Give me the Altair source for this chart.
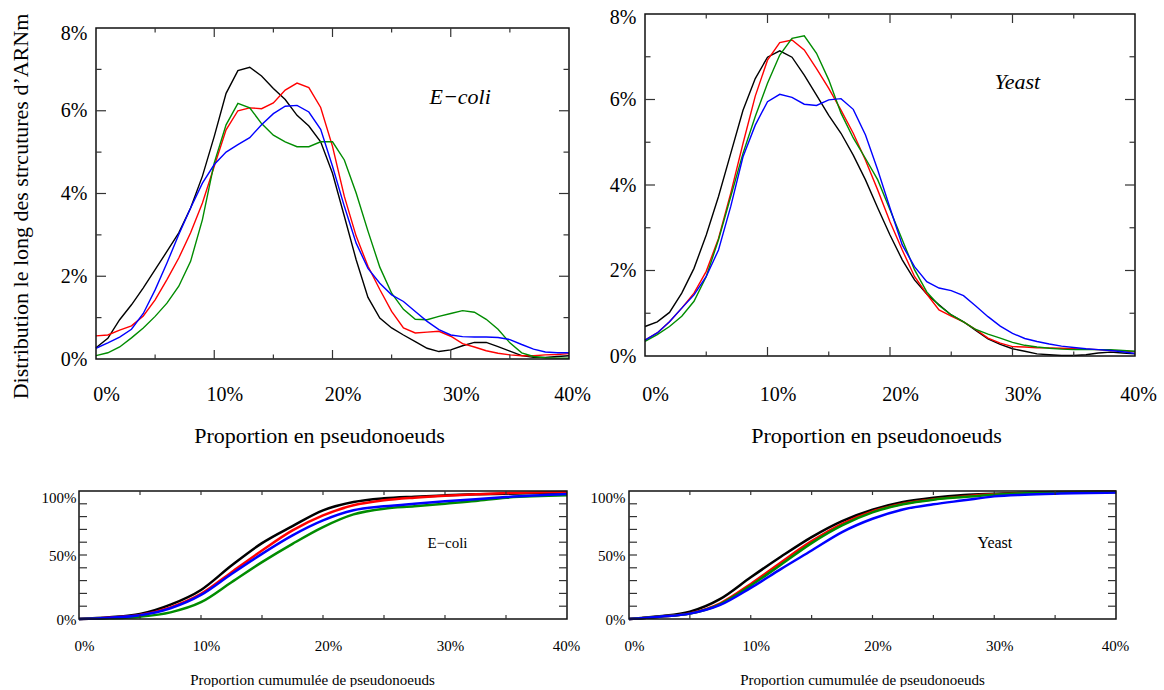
import altair as alt
import pandas as pd

FONT = "Liberation Serif"
SERIES = ["noir", "rouge", "vert", "bleu"]
COLORS = ["#000000", "#ff0000", "#008c00", "#0000ff"]
TICK_COLOR = "#333333"
FRAME_COLOR = "#111111"

# ---------------- density curves (percent) ----------------
x_density = list(range(0, 41))

ecoli_black = [0.27, 0.5, 0.95, 1.31, 1.72, 2.16, 2.6, 3.05, 3.65, 4.42, 5.38, 6.42, 6.97, 7.05, 6.84, 6.54,
               6.27, 5.89, 5.63, 5.25, 4.49, 3.45, 2.4, 1.49, 0.99, 0.75, 0.58, 0.42, 0.26, 0.18, 0.22, 0.32,
               0.4, 0.4, 0.3, 0.19, 0.08, 0.04, 0.04, 0.06, 0.08]
ecoli_red = [0.56, 0.58, 0.7, 0.8, 1.04, 1.43, 1.92, 2.44, 3.05, 3.77, 4.66, 5.54, 6.0, 6.07, 6.05, 6.19,
             6.5, 6.67, 6.56, 6.08, 5.14, 3.93, 2.97, 2.24, 1.68, 1.15, 0.75, 0.63, 0.65, 0.67, 0.55, 0.37,
             0.29, 0.2, 0.14, 0.1, 0.08, 0.08, 0.1, 0.11, 0.13]
ecoli_green = [0.08, 0.15, 0.29, 0.51, 0.75, 1.03, 1.35, 1.76, 2.36, 3.37, 4.74, 5.66, 6.18, 6.07, 5.69,
               5.41, 5.25, 5.13, 5.13, 5.25, 5.25, 4.81, 4.01, 3.09, 2.22, 1.59, 1.2, 0.96, 0.95, 1.03,
               1.1, 1.17, 1.13, 0.96, 0.72, 0.39, 0.15, 0.06, 0.03, 0.02, 0.02]
ecoli_blue = [0.26, 0.39, 0.53, 0.72, 1.1, 1.67, 2.32, 3.01, 3.65, 4.25, 4.7, 5.0, 5.18, 5.35, 5.66, 5.93,
              6.11, 6.13, 5.97, 5.55, 4.66, 3.69, 2.8, 2.19, 1.83, 1.55, 1.39, 1.15, 0.91, 0.71, 0.58,
              0.54, 0.53, 0.53, 0.52, 0.47, 0.35, 0.24, 0.17, 0.15, 0.15]

yeast_black = [0.69, 0.8, 1.02, 1.47, 2.05, 2.83, 3.73, 4.74, 5.75, 6.49, 6.99, 7.14, 6.99, 6.57, 6.1, 5.63,
               5.21, 4.7, 4.12, 3.46, 2.83, 2.25, 1.78, 1.45, 1.2, 0.96, 0.8, 0.6, 0.4, 0.27, 0.17, 0.11,
               0.05, 0.03, 0.01, 0.01, 0.03, 0.07, 0.09, 0.07, 0.05]
yeast_red = [0.37, 0.54, 0.8, 1.12, 1.47, 1.98, 2.75, 3.81, 4.97, 6.08, 6.92, 7.33, 7.39, 7.16, 6.72, 6.26,
             5.75, 5.21, 4.58, 3.88, 3.14, 2.48, 1.86, 1.45, 1.08, 0.93, 0.8, 0.62, 0.42, 0.3, 0.22, 0.21,
             0.19, 0.19, 0.18, 0.17, 0.16, 0.15, 0.13, 0.12, 0.1]
yeast_green = [0.34, 0.5, 0.69, 0.93, 1.28, 1.86, 2.72, 3.73, 4.74, 5.6, 6.38, 7.04, 7.43, 7.49, 7.08, 6.46,
               5.68, 5.1, 4.62, 4.12, 3.42, 2.72, 2.02, 1.5, 1.18, 0.96, 0.8, 0.62, 0.51, 0.42, 0.32, 0.25,
               0.21, 0.18, 0.16, 0.15, 0.15, 0.15, 0.15, 0.13, 0.11]
yeast_blue = [0.37, 0.54, 0.8, 1.12, 1.43, 1.86, 2.48, 3.5, 4.66, 5.4, 5.95, 6.12, 6.05, 5.89, 5.86, 5.99,
              6.02, 5.77, 5.17, 4.35, 3.46, 2.6, 2.09, 1.74, 1.59, 1.53, 1.41, 1.17, 0.92, 0.7, 0.53, 0.41,
              0.34, 0.28, 0.23, 0.2, 0.17, 0.15, 0.13, 0.1, 0.06]

# ---------------- cumulative curves (percent) ----------------
x_cumul = [0, 2.5, 5, 7.5, 10, 12.5, 15, 17.5, 20, 22.5, 25, 27.5, 30, 32.5, 35, 40]

ecoli_cum_black = [0, 1.3, 3.9, 11.2, 22.7, 41.8, 59.3, 72.6, 84.9, 91.4, 94.3, 95.6, 96.6, 97.4, 97.9, 98.9]
ecoli_cum_red = [0, 1.0, 3.1, 9.1, 19.6, 36.6, 53.5, 69.2, 80.9, 88.8, 92.7, 94.8, 96.3, 97.4, 98.4, 99.2]
ecoli_cum_green = [0, 0.5, 1.8, 5.2, 13.1, 28.7, 44.4, 58.7, 71.8, 81.7, 86.2, 88.0, 90.1, 92.2, 94.8, 96.6]
ecoli_cum_blue = [0, 1.0, 2.9, 8.4, 18.8, 35.2, 50.9, 65.3, 77.0, 84.9, 88.0, 90.1, 91.9, 93.5, 95.3, 97.7]

yeast_cum_black = [0, 2.1, 5.7, 15.7, 32.6, 48.8, 64.0, 76.5, 85.4, 91.4, 94.8, 96.9, 97.9, 98.7, 99.2, 99.6]
yeast_cum_red = [0, 1.8, 4.4, 12.3, 27.4, 44.4, 60.8, 74.4, 84.1, 90.1, 93.5, 95.8, 97.4, 98.2, 98.7, 99.3]
yeast_cum_green = [0, 1.8, 4.2, 11.7, 26.1, 42.6, 59.3, 73.1, 83.3, 89.6, 93.2, 95.3, 97.1, 98.2, 98.7, 99.1]
yeast_cum_blue = [0, 1.8, 4.2, 11.0, 24.3, 39.2, 53.5, 67.9, 78.3, 85.6, 89.6, 92.7, 95.8, 97.1, 97.9, 98.8]

# ---------------- axes / ticks / labels ----------------
x_label_values = [0, 10, 20, 30, 40]
density_y_label_values = [0, 2, 4, 6, 8]
cumul_y_label_values = [0, 50, 100]

density_x_major = [10, 20, 30]
density_x_minor = [5, 15, 25, 35]
density_y_major = [2, 4, 6]
density_y_minor = [1, 3, 5, 7]
cumul_x_ticks = [5, 10, 15, 20, 25, 30, 35]
cumul_y_ticks = [10, 20, 30, 40, 50, 60, 70, 80, 90]

density_title_x = "Proportion en pseudonoeuds"
density_title_y = "Distribution le long des strcutures d\u2019ARNm"
cumul_title_x = "Proportion cumumul\u00e9e de pseudonoeuds"

ecoli_name = "E\u2212coli"
yeast_name = "Yeast"
ecoli_density_label_pos = [30.8, 6.33]
yeast_density_label_pos = [30.4, 6.41]
ecoli_cumul_label_pos = [30.2, 59.6]
yeast_cumul_label_pos = [30.05, 59.6]


def long_df(xs, series_list):
    rows = []
    for name, ys in zip(SERIES, series_list):
        for xv, yv in zip(xs, ys):
            rows.append({"x": xv, "y": yv, "s": name})
    return pd.DataFrame(rows)


def panel(xs, series, box_w, box_h, ymax, left_extra, top_extra, xaxis, yaxis, line_w, interp,
          x_groups, y_groups, name, pos, font_size, font_style):
    x_lo = -40.0 * left_extra / box_w
    y_hi = ymax * (box_h + top_extra) / box_h
    xscale = alt.Scale(domain=[x_lo, 40], nice=False, zero=False)
    yscale = alt.Scale(domain=[0, y_hi], nice=False, zero=False)

    def X():
        return alt.X("x:Q", scale=xscale, axis=xaxis)

    def Y():
        return alt.Y("y:Q", scale=yscale, axis=yaxis)

    def XD(v):
        return alt.XDatum(v, scale=xscale, axis=xaxis)

    def YD(v):
        return alt.YDatum(v, scale=yscale, axis=yaxis)

    layers = []
    lines = alt.Chart(long_df(xs, series)).mark_line(
        strokeWidth=line_w, interpolate=interp).encode(
        x=X(), y=Y(),
        color=alt.Color("s:N", scale=alt.Scale(domain=SERIES, range=COLORS), legend=None),
    )
    layers.append(lines)

    frame = alt.Chart(pd.DataFrame({"k": [0]})).mark_rect(
        fillOpacity=0, stroke=FRAME_COLOR, strokeWidth=1.5).encode(
        x=XD(0), x2=alt.X2Datum(40), y=YD(0), y2=alt.Y2Datum(ymax))
    layers.append(frame)

    for vals, length in x_groups:
        base = alt.Chart(pd.DataFrame({"x": vals}))
        layers.append(base.mark_rule(color=TICK_COLOR, strokeWidth=1.2, y2Offset=-length).encode(
            x=X(), y=YD(0), y2=alt.Y2Datum(0)))
        layers.append(base.mark_rule(color=TICK_COLOR, strokeWidth=1.2, y2Offset=length).encode(
            x=X(), y=YD(ymax), y2=alt.Y2Datum(ymax)))
    for vals, length in y_groups:
        base = alt.Chart(pd.DataFrame({"y": vals}))
        layers.append(base.mark_rule(color=TICK_COLOR, strokeWidth=1.2, x2Offset=length).encode(
            y=Y(), x=XD(0), x2=alt.X2Datum(0)))
        layers.append(base.mark_rule(color=TICK_COLOR, strokeWidth=1.2, x2Offset=-length).encode(
            y=Y(), x=XD(40), x2=alt.X2Datum(40)))

    text = alt.Chart(pd.DataFrame({"x": [pos[0]], "y": [pos[1]], "t": [name]})).mark_text(
        font=FONT, fontSize=font_size, fontStyle=font_style, align="center",
        baseline="middle", color="black").encode(x=X(), y=Y(), text="t:N")
    layers.append(text)

    return alt.layer(*layers).properties(width=box_w + left_extra, height=box_h + top_extra)


def x_axis(font_size, pad, offset_else, offset_last, title, title_size, title_x, title_y):
    return alt.Axis(values=x_label_values, labelExpr="datum.value + '%'", ticks=False,
                    domain=False, grid=False, labelFlush=False, labelFont=FONT,
                    labelFontSize=font_size, labelColor="black", labelPadding=pad,
                    labelOffset={"condition": {"test": "datum.value == 40", "value": offset_last},
                                 "value": offset_else},
                    title=title, titleFont=FONT, titleFontSize=title_size, titleFontWeight="normal",
                    titleColor="black", titleX=title_x, titleY=title_y,
                    titleBaseline="alphabetic", titleAlign="center")


def y_axis(values, font_size, pad, top_value, top_offset, axis_offset=0, title=None,
           title_x=None, title_y=None):
    kw = dict(values=values, labelExpr="datum.value + '%'", ticks=False, domain=False,
              grid=False, labelFont=FONT, labelFontSize=font_size, labelColor="black",
              labelPadding=pad, offset=axis_offset,
              labelOffset={"condition": {"test": "datum.value == %d" % top_value, "value": top_offset},
                           "value": 0})
    if title is not None:
        kw.update(title=title, titleFont=FONT, titleFontSize=22, titleFontWeight="normal",
                  titleColor="black", titleX=title_x, titleY=title_y, titleAngle=270,
                  titleBaseline="alphabetic", titleAlign="center")
    else:
        kw.update(title=None)
    return alt.Axis(**kw)


density_x_groups = [(density_x_major, 9), (density_x_minor, 4.5)]
density_y_groups = [(density_y_major, 10), (density_y_minor, 5.5)]
cumul_x_groups = [(cumul_x_ticks, 4)]
cumul_y_groups = [(cumul_y_ticks, 8)]

# E-coli density panel: its view starts 17 px left of and 14 px above its frame,
# so that it lines up with the cumulative panel below and the Yeast panel beside it.
TL = panel(x_density, [ecoli_black, ecoli_red, ecoli_green, ecoli_blue], 473, 331, 8, 17, 14,
           x_axis(20, 25, 10, 3, density_title_x, 22, 240, 83),
           y_axis(density_y_label_values, 20, 9, 8, 5, axis_offset=-17, title=density_title_y,
                  title_x=-69, title_y=192),
           1.4, "linear", density_x_groups, density_y_groups,
           ecoli_name, ecoli_density_label_pos, 22, "italic")

TR = panel(x_density, [yeast_black, yeast_red, yeast_green, yeast_blue], 490, 342, 8, 0, 0,
           x_axis(20, 28, 10, 3, density_title_x, 22, 231, 86),
           y_axis(density_y_label_values, 20, 9, 8, 3),
           1.4, "linear", density_x_groups, density_y_groups,
           yeast_name, yeast_density_label_pos, 22, "italic")

BL = panel(x_cumul, [ecoli_cum_black, ecoli_cum_red, ecoli_cum_green, ecoli_cum_blue], 488, 128, 100, 0, 0,
           x_axis(15, 19, 5, -1, cumul_title_x, 15, 233, 65),
           y_axis(cumul_y_label_values, 15, 3, 100, 6),
           2.5, "monotone", cumul_x_groups, cumul_y_groups,
           ecoli_name, ecoli_cumul_label_pos, 15, "normal")

BR = panel(x_cumul, [yeast_cum_black, yeast_cum_red, yeast_cum_green, yeast_cum_blue], 487, 128, 100, 0, 0,
           x_axis(15, 19, 5, -1, cumul_title_x, 15, 233, 65),
           y_axis(cumul_y_label_values, 15, 4, 100, 6),
           2.5, "monotone", cumul_x_groups, cumul_y_groups,
           yeast_name, yeast_cumul_label_pos, 16, "normal")

top_row = alt.hconcat(TL, TR, spacing=18)
bottom_row = alt.hconcat(BL, BR, spacing=10)

chart = alt.vconcat(top_row, bottom_row, spacing=40).properties(
    padding={"left": 8, "top": 7, "right": 2, "bottom": 0},
    background="white",
).configure_view(stroke=None).configure_title(font=FONT)

chart.save("out.html", embed_options={"renderer": "svg", "actions": False})
